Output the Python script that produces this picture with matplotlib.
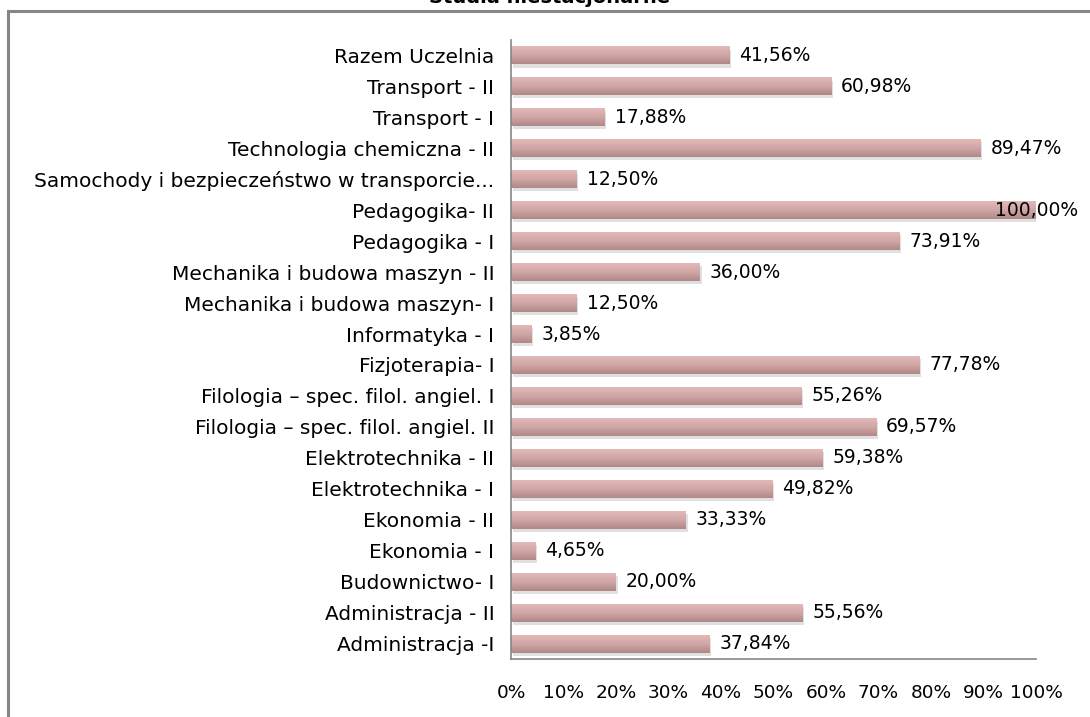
import matplotlib
matplotlib.use("Agg")
import matplotlib.pyplot as plt
import numpy as np
from matplotlib.colors import LinearSegmentedColormap
from matplotlib.patches import Rectangle

title = "Studia niestacjonarne"

# bottom to top, as in the chart
categories = [
    "Administracja -I",
    "Administracja - II",
    "Budownictwo- I",
    "Ekonomia - I",
    "Ekonomia - II",
    "Elektrotechnika - I",
    "Elektrotechnika - II",
    "Filologia \u2013 spec. filol. angiel. II",
    "Filologia \u2013 spec. filol. angiel. I",
    "Fizjoterapia- I",
    "Informatyka - I",
    "Mechanika i budowa maszyn- I",
    "Mechanika i budowa maszyn - II",
    "Pedagogika - I",
    "Pedagogika- II",
    "Samochody i bezpiecze\u0144stwo w transporcie...",
    "Technologia chemiczna - II",
    "Transport - I",
    "Transport - II",
    "Razem Uczelnia",
]
values = [37.84, 55.56, 20.00, 4.65, 33.33, 49.82, 59.38, 69.57, 55.26, 77.78,
          3.85, 12.50, 36.00, 73.91, 100.00, 12.50, 89.47, 17.88, 60.98, 41.56]
xticks = list(range(0, 101, 10))

plt.rcParams['font.family'] = ['DejaVu Sans']

fig = plt.figure(figsize=(10.9, 7.17), dpi=100)
ax = fig.add_axes([511 / 1090, 1 - 659 / 717, 525 / 1090, 619 / 717])

bar_h = 0.58
grad = LinearSegmentedColormap.from_list("bar", ["#b08888", "#d0a5a5", "#e2b9b9"])
g = np.linspace(0, 1, 64).reshape(-1, 1)

y = np.arange(len(categories))
for yi, v in zip(y, values):
    # soft shadow under the bar
    ax.add_patch(Rectangle((0.3, yi - bar_h / 2 - 0.1), v, bar_h,
                           facecolor="#9a9a9a", alpha=0.3, edgecolor="none", zorder=1))
    ax.imshow(g, cmap=grad, aspect="auto", origin="lower",
              extent=(0, v, yi - bar_h / 2, yi + bar_h / 2), zorder=2)

for yi, v in zip(y, values):
    xpos = min(v, 90.3)  # Excel pulls the 100% label back inside
    ax.annotate(f"{v:.2f}%".replace(".", ","), xy=(xpos, yi), xytext=(10, 0),
                textcoords="offset pixels", va="center", ha="left",
                fontsize=13.5, color="black", zorder=5, annotation_clip=False)

ax.set_xlim(0, 100)
ax.set_ylim(-0.5, len(categories) - 0.5)
ax.set_yticks(y)
ax.set_yticklabels(categories, fontsize=14.5)
ax.set_xticks(xticks)
ax.set_xticklabels([f"{t}%" for t in xticks], fontsize=13.3)
ax.tick_params(axis="both", length=0)
ax.tick_params(axis="y", pad=12)
ax.tick_params(axis="x", pad=18)
for s in ["top", "right"]:
    ax.spines[s].set_visible(False)
for s in ["left", "bottom"]:
    ax.spines[s].set_color("#868686")
    ax.spines[s].set_linewidth(1.2)

# outer chart frame (runs off the right and bottom edges)
fig.add_artist(Rectangle((7.5 / 1090, -0.1), 1.2, 1.1 - 11 / 717, transform=fig.transFigure,
                         fill=False, edgecolor="#868686", linewidth=2.2, clip_on=False))

fig.text(550 / 1090, 1 - 3 / 717, title, ha="center", va="baseline",
         fontsize=14, fontweight="bold")

fig.savefig("out.png", dpi=100)
